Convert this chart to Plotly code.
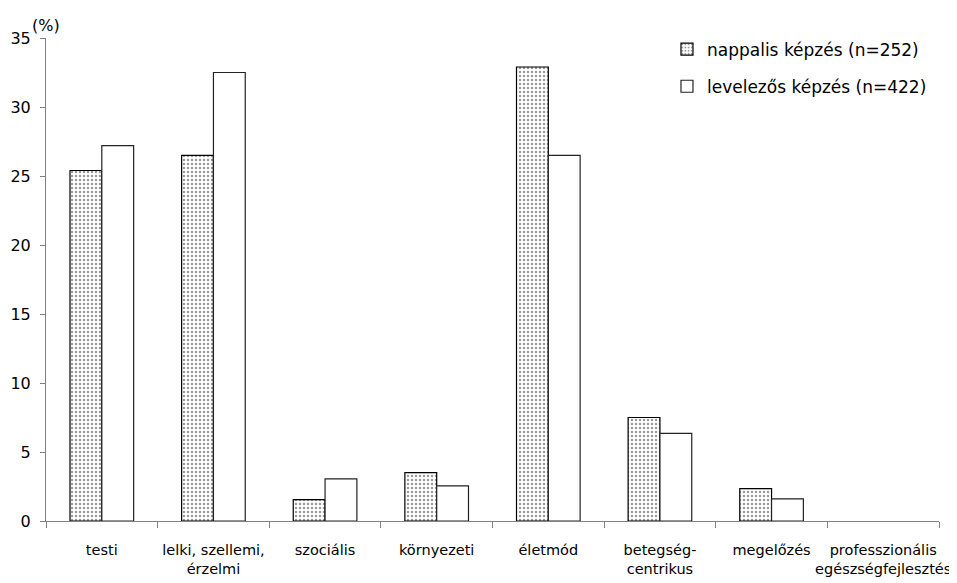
import plotly.graph_objects as go

categories = ["testi", "lelki, szellemi,<br>érzelmi", "szociális", "környezeti",
              "életmód", "betegség-<br>centrikus", "megelőzés",
              "professzionális<br>egészségfejlesztés"]
nappalis = [25.4, 26.5, 1.55, 3.5, 32.9, 7.5, 2.35, 0]
levelezos = [27.2, 32.5, 3.05, 2.55, 26.5, 6.35, 1.6, 0]
series_names = ["nappalis képzés (n=252)", "levelezős képzés (n=422)"]
y_ticks = [0, 5, 10, 15, 20, 25, 30, 35]

FONT = "DejaVu Sans"

def outline(vals):
    return [0 if v == 0 else 1.2 for v in vals]

fig = go.Figure()
fig.add_trace(go.Bar(
    x=categories, y=nappalis, name=series_names[0], legendgroup="a",
    marker=dict(color="white",
                pattern=dict(shape=".", size=4, solidity=0.3,
                             fgcolor="#333333", bgcolor="white"),
                line=dict(color="black", width=outline(nappalis))),
))
fig.add_trace(go.Bar(
    x=categories, y=levelezos, name=series_names[1], legendgroup="b",
    marker=dict(color="white", line=dict(color="#222222", width=outline(levelezos))),
))

# page body has an 8px margin, so the figure is sized/offset to compensate
fig.update_layout(
    width=949, height=575,
    margin=dict(l=38, r=18, t=30, b=62, autoexpand=False),
    paper_bgcolor="white", plot_bgcolor="white",
    barmode="group", bargap=0.43, bargroupgap=0,
    font=dict(family=FONT, size=15, color="black"),
    showlegend=True,
    legend=dict(xref="container", yref="container", x=0.6944, y=0.959,
                xanchor="left", yanchor="top",
                font=dict(family=FONT, size=17, color="black"),
                traceorder="grouped", tracegroupgap=12,
                bgcolor="rgba(0,0,0,0)", itemwidth=30),
    xaxis=dict(type="category", showline=True, linecolor="#808080", linewidth=1,
               ticks="outside", tickson="boundaries", ticklen=6, tickcolor="#808080",
               showgrid=False, zeroline=False, tickangle=0, automargin=False,
               tickfont=dict(family=FONT, size=14.5, color="black"),
               ticklabelstandoff=16),
    yaxis=dict(range=[0, 35], tickvals=y_ticks, showline=True, linecolor="#808080",
               linewidth=1, ticks="outside", ticklen=5, tickcolor="#808080",
               showgrid=False, zeroline=False, automargin=False,
               tickfont=dict(family=FONT, size=16, color="black"),
               ticklabelstandoff=6),
    annotations=[dict(text="(%)", xref="paper", yref="paper", x=0, y=1.0,
                      xanchor="left", yanchor="bottom", yshift=1, xshift=-16,
                      showarrow=False, font=dict(family=FONT, size=16, color="black"))],
)

fig.write_html("out.html")
